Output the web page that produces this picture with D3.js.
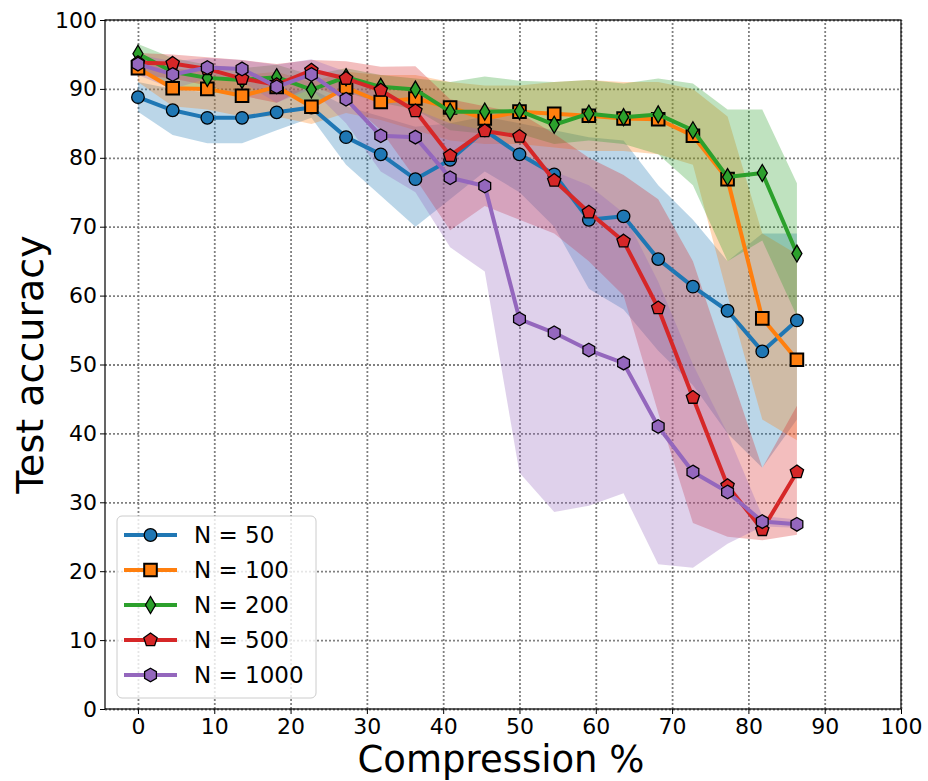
<!DOCTYPE html>
<html>
<head>
<meta charset="utf-8">
<script src="https://cdn.jsdelivr.net/npm/d3@7"></script>
<style>
    body { margin: 0; background: #fff; }
    text { font-family: "DejaVu Sans", sans-serif; }
</style>
</head>
<body>
<div id="root"></div>
<script>
// compression levels (x) and axis ticks
var compression = [0, 4.55, 9.09, 13.64, 18.18, 22.73, 27.27, 31.82, 36.36, 40.91,
    45.45, 50, 54.55, 59.09, 63.64, 68.18, 72.73, 77.27, 81.82, 86.36];
var xTicks = [0, 10, 20, 30, 40, 50, 60, 70, 80, 90, 100];
var yTicks = [0, 10, 20, 30, 40, 50, 60, 70, 80, 90, 100];

var names = ["N = 50", "N = 100", "N = 200", "N = 500", "N = 1000"];

// mean accuracy and min / max band
var n50Mean = [88.8, 86.9, 85.8, 85.8, 86.6, 87.3, 83.0, 80.5, 76.9, 79.7, 84.0, 80.5, 77.6, 71.0, 71.5, 65.3, 61.3, 57.8, 51.9, 56.4];
var n50Lo   = [86.7, 83.3, 82.1, 82.1, 84.0, 85.8, 79.0, 74.5, 70.0, 74.0, 78.0, 75.0, 70.0, 61.0, 58.0, 52.0, 47.0, 40.0, 35.0, 42.0];
var n50Hi   = [91.0, 90.0, 89.5, 89.0, 89.5, 90.0, 87.5, 86.0, 84.5, 85.0, 86.0, 85.0, 84.0, 83.0, 82.5, 76.0, 71.0, 65.0, 69.0, 69.0];

var n100Mean = [93.0, 90.1, 90.0, 89.0, 90.3, 87.4, 90.2, 88.1, 88.6, 87.3, 85.7, 86.7, 86.4, 86.1, 85.7, 85.6, 83.2, 76.9, 56.7, 50.7];
var n100Lo   = [91.0, 87.5, 87.0, 86.0, 86.0, 84.9, 86.5, 85.5, 84.0, 82.5, 82.0, 82.0, 81.5, 81.0, 81.0, 80.5, 79.0, 60.0, 42.0, 39.0];
var n100Hi   = [94.5, 93.0, 92.5, 92.0, 92.5, 91.0, 92.5, 92.0, 92.0, 91.0, 90.5, 90.5, 91.0, 91.3, 91.0, 91.0, 90.0, 86.0, 69.0, 66.0];

var n200Mean = [95.1, 92.5, 91.6, 91.3, 91.7, 89.9, 91.7, 90.3, 89.9, 86.7, 86.7, 86.8, 84.8, 86.4, 85.9, 86.3, 84.0, 77.2, 77.8, 66.1];
var n200Lo   = [93.0, 90.5, 89.5, 89.0, 89.5, 88.0, 89.5, 88.0, 87.0, 84.0, 83.5, 83.5, 82.0, 82.5, 82.0, 80.5, 76.0, 65.0, 68.0, 57.0];
var n200Hi   = [96.5, 94.5, 93.5, 93.0, 93.5, 92.0, 93.0, 92.0, 91.5, 91.0, 91.8, 91.2, 91.0, 91.3, 90.8, 91.5, 90.8, 87.0, 87.0, 76.3];

var n500Mean = [93.8, 93.7, 92.9, 91.5, 90.6, 92.7, 91.5, 89.8, 86.8, 80.3, 83.9, 83.1, 76.7, 72.1, 67.9, 58.2, 45.2, 32.4, 26.0, 34.4];
var n500Lo   = [92.0, 91.5, 90.5, 89.0, 88.0, 90.5, 88.5, 84.0, 77.0, 69.5, 73.0, 71.0, 69.0, 65.0, 60.0, 43.0, 27.0, 25.0, 24.5, 25.3];
var n500Hi   = [95.2, 95.0, 94.6, 94.2, 93.6, 94.2, 94.0, 93.2, 93.3, 88.5, 87.5, 86.5, 83.5, 80.0, 77.5, 74.0, 65.0, 50.0, 35.0, 44.0];

var n1000Mean = [93.6, 92.1, 93.1, 92.9, 90.3, 92.1, 88.5, 83.2, 83.0, 77.1, 75.9, 56.6, 54.6, 52.1, 50.2, 41.0, 34.4, 31.5, 27.2, 26.8];
var n1000Lo   = [92.0, 90.0, 91.5, 91.0, 88.0, 90.0, 85.0, 78.0, 75.0, 67.0, 63.5, 34.3, 28.6, 29.5, 31.3, 21.0, 20.5, 24.0, 26.5, 26.3];
var n1000Hi   = [95.0, 94.0, 94.5, 94.2, 93.5, 94.3, 92.5, 89.0, 87.0, 85.0, 84.0, 80.0, 78.0, 76.0, 72.0, 62.0, 50.0, 40.0, 28.0, 27.5];

var colors = ["#1f77b4", "#ff7f0e", "#2ca02c", "#d62728", "#9467bd"];
var shapes = ["circle", "square", "diamond", "pentagon", "hexagon"];

var series = [
    { mean: n50Mean, lo: n50Lo, hi: n50Hi },
    { mean: n100Mean, lo: n100Lo, hi: n100Hi },
    { mean: n200Mean, lo: n200Lo, hi: n200Hi },
    { mean: n500Mean, lo: n500Lo, hi: n500Hi },
    { mean: n1000Mean, lo: n1000Lo, hi: n1000Hi }
];

// set the dimensions and margins of the graph
var margin = { top: 20, right: 27, bottom: 72, left: 105 },
    width = 928 - margin.left - margin.right,
    height = 781 - margin.top - margin.bottom;

var svg = d3
    .select("#root")
    .append("svg")
    .attr("width", 928)
    .attr("height", 781)
    .append("g")
    .attr("transform", "translate(" + margin.left + "," + margin.top + ")");

var x = d3.scaleLinear().domain([-4.32, 100]).range([0, width]);
var y = d3.scaleLinear().domain([0, 100]).range([height, 0]);

// dotted grid
svg.append("g")
    .attr("class", "grid")
    .attr("transform", "translate(0," + height + ")")
    .call(d3.axisBottom(x).tickValues(xTicks).tickSize(-height).tickFormat(""));
svg.append("g")
    .attr("class", "grid")
    .call(d3.axisLeft(y).tickValues(yTicks).tickSize(-width).tickFormat(""));
svg.selectAll(".grid .domain").remove();
svg.selectAll(".grid line")
    .attr("stroke", "#808080")
    .attr("stroke-width", 1.8)
    .attr("stroke-dasharray", "2,2");

// min / max bands first
var area = d3.area()
    .x((d, i) => x(compression[i]))
    .y0((d) => y(d[0]))
    .y1((d) => y(d[1]));

series.forEach((s, k) => {
    svg.append("path")
        .datum(s.lo.map((v, i) => [v, s.hi[i]]))
        .attr("d", area)
        .attr("fill", colors[k])
        .attr("fill-opacity", 0.3);
});

function markerPath(shape) {
    var pts = [];
    if (shape === "square") {
        return "M-6.3,-6.3H6.3V6.3H-6.3Z";
    }
    if (shape === "diamond") {
        return "M0,-8.5L5,0L0,8.5L-5,0Z";
    }
    if (shape === "circle") {
        return "M6.3,0A6.3,6.3 0 1,1 -6.3,0A6.3,6.3 0 1,1 6.3,0Z";
    }
    var n = shape === "pentagon" ? 5 : 6;
    var r = shape === "pentagon" ? 7 : 6.8;
    for (var j = 0; j < n; j++) {
        var a = -Math.PI / 2 + (j * 2 * Math.PI) / n;
        pts.push([r * Math.cos(a), r * Math.sin(a)]);
    }
    return "M" + pts.map((p) => p[0].toFixed(2) + "," + p[1].toFixed(2)).join("L") + "Z";
}

var line = d3.line()
    .x((d, i) => x(compression[i]))
    .y((d) => y(d));

series.forEach((s, k) => {
    svg.append("path")
        .datum(s.mean)
        .attr("d", line)
        .attr("fill", "none")
        .attr("stroke", colors[k])
        .attr("stroke-width", 4)
        .attr("stroke-linejoin", "round");

    svg.append("g")
        .selectAll("path")
        .data(s.mean)
        .enter()
        .append("path")
        .attr("transform", (d, i) => "translate(" + x(compression[i]) + "," + y(d) + ")")
        .attr("d", markerPath(shapes[k]))
        .attr("fill", colors[k])
        .attr("stroke", "#000")
        .attr("stroke-width", shapes[k] === "square" ? 2 : 1.3);
});

// axes
var xAxis = svg.append("g")
    .attr("transform", "translate(0," + height + ")")
    .call(d3.axisBottom(x).tickValues(xTicks).tickSize(5).tickPadding(4));
var yAxis = svg.append("g")
    .call(d3.axisLeft(y).tickValues(yTicks).tickSize(5).tickPadding(3));
svg.selectAll(".domain").remove();
[xAxis, yAxis].forEach((a) => {
    a.selectAll("text")
        .style("font-size", "22px")
        .style("font-family", "DejaVu Sans")
        .attr("fill", "#000");
    a.selectAll("line").attr("stroke", "#000");
});

// frame
svg.append("rect")
    .attr("width", width)
    .attr("height", height)
    .attr("fill", "none")
    .attr("stroke", "#000")
    .attr("stroke-width", 1.2);

// axis titles
svg.append("text")
    .attr("x", width / 2 - 2)
    .attr("y", height + 63)
    .attr("text-anchor", "middle")
    .style("font-size", "37px")
    .text("Compression %");

svg.append("text")
    .attr("transform", "translate(" + (43 - margin.left) + "," + height / 2 + ") rotate(-90)")
    .attr("text-anchor", "middle")
    .style("font-size", "38px")
    .text("Test accuracy");

// legend
var legend = svg.append("g").attr("transform", "translate(12,496)");
legend.append("rect")
    .attr("width", 199)
    .attr("height", 182)
    .attr("rx", 5)
    .attr("fill", "#fff")
    .attr("fill-opacity", 0.8)
    .attr("stroke", "#cccccc")
    .attr("stroke-width", 1);

names.forEach((name, k) => {
    var row = legend.append("g").attr("transform", "translate(0," + (19 + k * 35) + ")");
    row.append("line")
        .attr("x1", 7)
        .attr("x2", 60)
        .attr("stroke", colors[k])
        .attr("stroke-width", 4);
    row.append("path")
        .attr("transform", "translate(33.5,0)")
        .attr("d", markerPath(shapes[k]))
        .attr("fill", colors[k])
        .attr("stroke", "#000")
        .attr("stroke-width", shapes[k] === "square" ? 2 : 1.3);
    row.append("text")
        .attr("x", 77)
        .attr("y", 8)
        .style("font-size", "23px")
        .text(name);
});
</script>
</body>
</html>
